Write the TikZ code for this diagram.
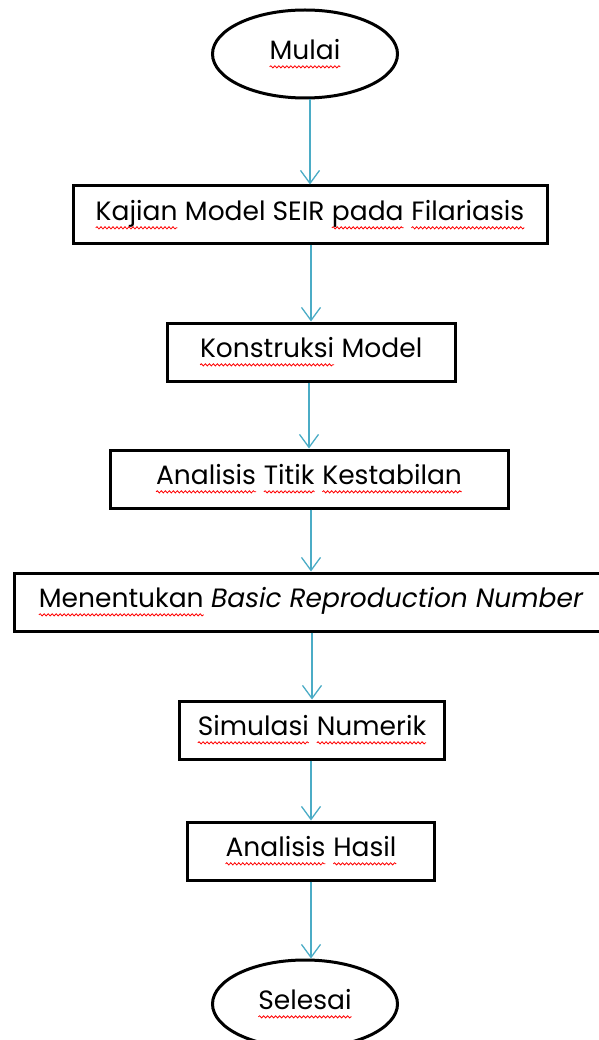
\documentclass[tikz,border=0pt]{standalone}
\usepackage{fontspec}
\setmainfont{Poppins}
\usetikzlibrary{shapes.geometric,arrows.meta,decorations.pathmorphing}
\definecolor{arrowblue}{RGB}{75,172,198}
% red wavy line under a word
\newcommand\sq[1]{\tikz[baseline=(w.base)]{%
	\node[rectangle,draw=none,inner sep=0pt,outer sep=0pt,minimum width=0pt,minimum height=0pt] (w) {#1};
	\draw[red,line width=0.8pt,decorate,decoration={snake,amplitude=1.1pt,segment length=4pt}]
		([yshift=-7pt]w.base west) -- ([yshift=-7pt]w.base east);}}
\begin{document}
\begin{tikzpicture}[x=1pt,y=-1pt,
	font=\fontsize{26.5}{30}\selectfont,
	stepbox/.style={draw,line width=3pt,minimum height=58pt,inner sep=0pt},
	terminal/.style={draw,ellipse,line width=3pt,minimum width=185pt,minimum height=88pt,inner sep=0pt},
	arrow/.style={draw=arrowblue,line width=1.3pt,-{Straight Barb[length=13pt,width=19pt]}}]
	\useasboundingbox (0,0) rectangle (598,1040);
	%nodes
	\node[terminal] (mulai) at (305,54) {\sq{Mulai}};
	\node[stepbox,minimum width=474pt] (kajian) at (310,215)
		{\sq{Kajian} Model SEIR \sq{pada} \sq{Filariasis}};
	\node[stepbox,minimum width=288pt] (konstruksi) at (311,352)
		{\sq{Konstruksi} Model};
	\node[stepbox,minimum width=398pt] (titik) at (309,479)
		{\sq{Analisis} \sq{Titik} \sq{Kestabilan}};
	\node[stepbox,minimum width=593pt] (bilangan) at (311,602)
		{\sq{Menentukan} \textit{Basic Reproduction Number}};
	\node[stepbox,minimum width=265pt] (simulasi) at (312,730)
		{\sq{Simulasi} \sq{Numerik}};
	\node[stepbox,minimum width=247pt] (hasil) at (311,851)
		{\sq{Analisis} \sq{Hasil}};
	\node[terminal] (selesai) at (305,1004) {\sq{Selesai}};
	%arrows
	\draw[arrow] (kajian.north |- mulai.south) -- (kajian.north);
	\draw[arrow] (kajian.south -| konstruksi.north) -- (konstruksi.north);
	\draw[arrow] (konstruksi.south -| titik.north) -- (titik.north);
	\draw[arrow] (titik.south -| bilangan.north) -- (bilangan.north);
	\draw[arrow] (bilangan.south -| simulasi.north) -- (simulasi.north);
	\draw[arrow] (simulasi.south -| hasil.north) -- (hasil.north);
	\draw[arrow] (hasil.south) -- (hasil.south |- selesai.north);
\end{tikzpicture}
\end{document}
